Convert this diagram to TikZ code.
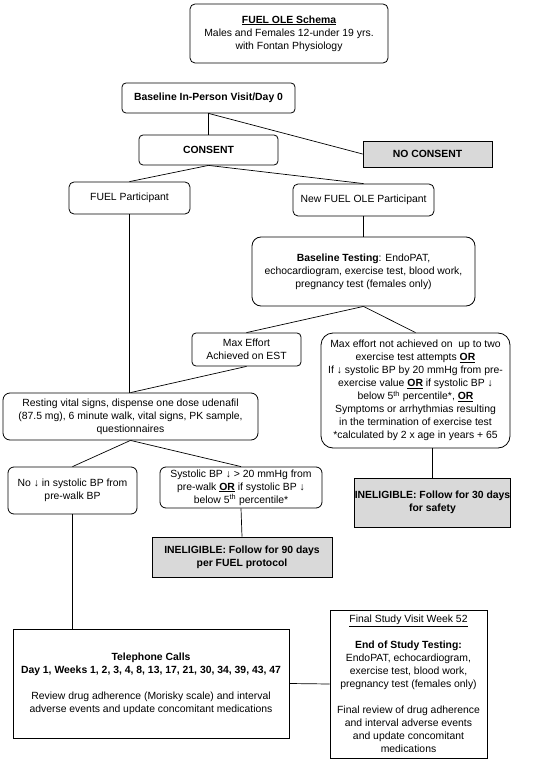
\documentclass[tikz,border=0pt]{standalone}
\usepackage{fontspec}
\setmainfont{Liberation Sans}
\begin{document}
\begin{tikzpicture}[x=1pt,y=1pt,
  every node/.style={font=\fontsize{10.4}{13}\selectfont, align=center, inner sep=0pt},
  rbox/.style={draw, line width=0.8pt, rounded corners=5pt},
  sbox/.style={draw, line width=0.8pt},
  gbox/.style={draw, line width=0.8pt, fill=black!15, font=\fontsize{10.4}{13}\selectfont\bfseries},
  conn/.style={line width=0.7pt}]
\useasboundingbox (0,0) rectangle (551,-762);

\node[rbox, minimum width=198, minimum height=59] (top) at (289,-33.5)
  {\textbf{\underline{FUEL OLE Schema}}\\Males and Females 12-under 19 yrs.\\with Fontan Physiology};
\node[rbox, rounded corners=4pt, minimum width=173, minimum height=30] (base) at (208.5,-98)
  {\textbf{Baseline In-Person Visit/Day 0}};
\node[rbox, rounded corners=4pt, minimum width=139, minimum height=30] (consent) at (208.5,-150)
  {\textbf{CONSENT}};
\node[gbox, minimum width=129, minimum height=26] (nocon) at (427.5,-154) {NO CONSENT};
\node[rbox, minimum width=121, minimum height=32] (fuel) at (129.5,-198) {FUEL Participant};
\node[rbox, minimum width=141, minimum height=32] (new) at (363.5,-200) {New FUEL OLE Participant};
\node[rbox, rounded corners=9pt, minimum width=223, minimum height=69] (btest) at (363.5,-271.5)
  {\textbf{Baseline Testing}: EndoPAT,\\echocardiogram, exercise test, blood work,\\pregnancy test (females only)};
\node[rbox, rounded corners=4pt, minimum width=109, minimum height=33] (max) at (246.5,-349.5)
  {Max Effort\\Achieved on EST};
\node[rbox, rounded corners=12pt, minimum width=189, minimum height=115] (right) at (415.5,-390.5)
  {Max effort not achieved on~ up to two\\exercise test attempts \underline{\textbf{OR}}\\If ↓ systolic BP by 20 mmHg from pre-\\exercise value \underline{\textbf{OR}} if systolic BP ↓\\below 5\textsuperscript{th} percentile*, \underline{\textbf{OR}}\\Symptoms or arrhythmias resulting\\in the termination of exercise test\\*calculated by 2 x age in years + 65};
\node[rbox, rounded corners=7pt, minimum width=255, minimum height=47] (rest) at (130.5,-416.5)
  {Resting vital signs, dispense one dose udenafil\\(87.5 mg), 6 minute walk, vital signs, PK sample,\\questionnaires};
\node[rbox, rounded corners=6pt, minimum width=129, minimum height=47] (nodrop) at (72.5,-490.5)
  {No ↓ in systolic BP from\\pre-walk BP};
\node[rbox, rounded corners=6pt, minimum width=162, minimum height=41] (sys) at (241,-487.5)
  {Systolic BP ↓ > 20 mmHg from\\pre-walk \underline{\textbf{OR}} if systolic BP ↓\\below 5\textsuperscript{th} percentile*};
\node[gbox, minimum width=180, minimum height=40] (in90) at (242,-557)
  {INELIGIBLE: Follow for 90 days\\per FUEL protocol};
\node[gbox, minimum width=139, minimum height=49] (in30) at (432.5,-502.5)
  {INELIGIBLE: Follow for 30 days\\for safety};
\node[sbox, minimum width=276, minimum height=109] (tel) at (151,-683.5)
  {\textbf{Telephone Calls}\\\textbf{Day 1, Weeks 1, 2, 3, 4, 8, 13, 17, 21, 30, 34, 39, 43, 47}\\[13pt]Review drug adherence (Morisky scale) and interval\\adverse events and update concomitant medications};
\node[sbox, minimum width=157, minimum height=148] (final) at (408.5,-684)
  {\underline{Final Study Visit Week 52}\\[13pt]\textbf{End of Study Testing:}\\EndoPAT, echocardiogram,\\exercise test, blood work,\\pregnancy test (females only)\\[13pt]Final review of drug adherence\\and interval adverse events\\and update concomitant\\medications};

\draw[conn] (base.south) -- (consent.north);
\draw[conn] (base.south) -- (nocon.west);
\draw[conn] (consent.south) -- (fuel.north);
\draw[conn] (consent.south) -- (new.north);
\draw[conn] (new.south) -- (btest.north);
\draw[conn] (btest.south) -- (max.north);
\draw[conn] (btest.south) -- (right.north);
\draw[conn] (max.south) -- (rest.north);
\draw[conn] (fuel.south) -- (fuel.south |- rest.north);
\draw[conn] (rest.south) -- (nodrop.north);
\draw[conn] (rest.south) -- (sys.north);
\draw[conn] (sys.south) -- (in90.north);
\draw[conn] (in30.north |- right.south) -- (in30.north);
\draw[conn] (nodrop.south) -- (nodrop.south |- tel.north);
\draw[conn] (tel.east) -- (final.west);
\end{tikzpicture}
\end{document}
